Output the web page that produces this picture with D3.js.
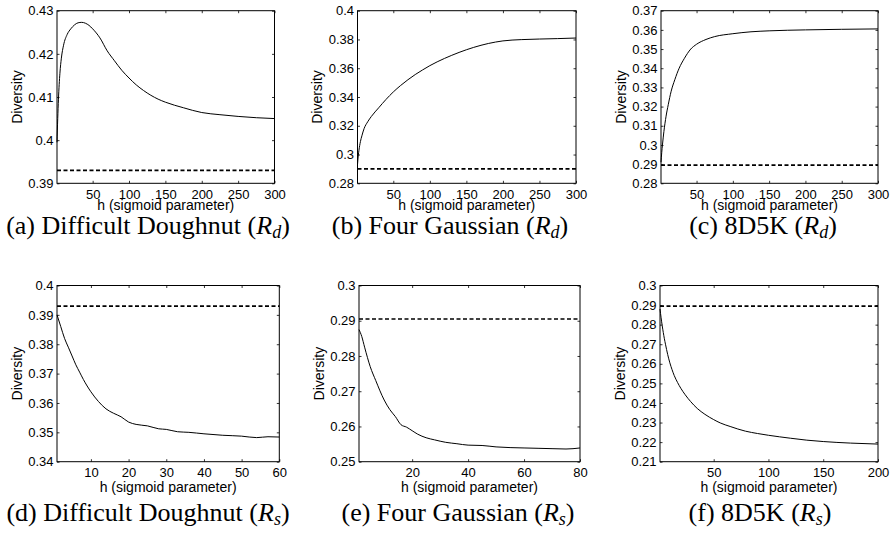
<!DOCTYPE html>
<html>
<head>
<meta charset="utf-8">
<script src="https://cdn.jsdelivr.net/npm/d3@7"></script>
<style>
  body { margin: 0; background: #fff; }
  svg { display: block; }
</style>
</head>
<body>
<div id="chart"></div>
<script>
// (a) Difficult Doughnut, R_d
const hA = [1, 2, 3, 5, 7, 10, 15, 20, 25, 30, 35, 40, 45, 50, 60, 70, 80, 90, 100, 110, 120, 130, 140, 150, 175, 200, 225, 250, 275, 300];
const divA = [0.3995, 0.405, 0.4095, 0.4155, 0.419, 0.422, 0.4245, 0.4258, 0.4267, 0.4272, 0.4273, 0.4271, 0.4266, 0.4258, 0.4237, 0.4207, 0.4184, 0.4162, 0.4144, 0.4128, 0.4115, 0.4104, 0.4095, 0.4088, 0.4075, 0.4064, 0.4059, 0.4055, 0.4052, 0.405];
const baseA = 0.393;

// (b) Four Gaussian, R_d
const hB = [1, 2, 3, 5, 7, 10, 15, 20, 30, 40, 50, 60, 70, 80, 90, 100, 120, 140, 160, 180, 200, 225, 250, 275, 300];
const divB = [0.293, 0.299, 0.303, 0.309, 0.313, 0.318, 0.3228, 0.3265, 0.3325, 0.3383, 0.3435, 0.348, 0.352, 0.3556, 0.3588, 0.3618, 0.3668, 0.371, 0.3745, 0.3772, 0.379, 0.3799, 0.3803, 0.3806, 0.381];
const baseB = 0.29;

// (c) 8D5K, R_d
const hC = [1, 2, 3, 5, 8, 11, 15, 20, 26, 33, 42, 50, 63, 75, 100, 125, 150, 200, 250, 300];
const divC = [0.291, 0.296, 0.3, 0.307, 0.315, 0.321, 0.328, 0.334, 0.34, 0.345, 0.35, 0.3525, 0.355, 0.3565, 0.358, 0.359, 0.3595, 0.36, 0.3603, 0.3605];
const baseC = 0.2895;

// (d) Difficult Doughnut, R_s
const hD = [1, 2, 3, 4, 5, 6, 7, 8, 10, 12, 14, 16, 18, 20, 22, 25, 28, 30, 33, 36, 40, 45, 50, 54, 57, 60];
const divD = [0.39, 0.386, 0.382, 0.379, 0.376, 0.373, 0.3705, 0.368, 0.3638, 0.3605, 0.358, 0.3565, 0.3553, 0.3535, 0.3527, 0.3522, 0.3512, 0.351, 0.3502, 0.35, 0.3495, 0.349, 0.3487, 0.3482, 0.3485, 0.3484];
const baseD = 0.393;

// (e) Four Gaussian, R_s
const hE = [1, 2, 3, 5, 7, 10, 12, 14, 16, 18, 20, 22, 25, 28, 32, 36, 40, 45, 50, 55, 60, 65, 70, 75, 80];
const divE = [0.2875, 0.2855, 0.2825, 0.277, 0.273, 0.2675, 0.2648, 0.2628, 0.2605, 0.2598, 0.2588, 0.2578, 0.2568, 0.2562, 0.2555, 0.2551, 0.2547, 0.2546, 0.2542, 0.254, 0.2539, 0.2538, 0.2537, 0.2536, 0.2539];
const baseE = 0.2905;

// (f) 8D5K, R_s
const hF = [1, 2, 3, 4, 5, 6, 8, 10, 12, 14, 17, 20, 24, 29, 35, 42, 50, 56, 65, 79, 90, 100, 120, 135, 150, 175, 200];
const divF = [0.288, 0.2835, 0.2795, 0.276, 0.2728, 0.27, 0.2648, 0.2605, 0.257, 0.254, 0.2505, 0.2475, 0.2442, 0.2407, 0.2372, 0.2342, 0.2315, 0.2298, 0.228, 0.2256, 0.2244, 0.2235, 0.222, 0.221, 0.2203, 0.2195, 0.219];
const baseF = 0.2895;

// tick values
const xTicks300 = [50, 100, 150, 200, 250, 300];
const xTicks60 = [10, 20, 30, 40, 50, 60];
const xTicks80 = [20, 40, 60, 80];
const xTicks200 = [50, 100, 150, 200];
const yTicksA = [0.39, 0.4, 0.41, 0.42, 0.43];
const yTicksB = [0.28, 0.3, 0.32, 0.34, 0.36, 0.38, 0.4];
const yTicksC = [0.28, 0.29, 0.3, 0.31, 0.32, 0.33, 0.34, 0.35, 0.36, 0.37];
const yTicksD = [0.34, 0.35, 0.36, 0.37, 0.38, 0.39, 0.4];
const yTicksE = [0.25, 0.26, 0.27, 0.28, 0.29, 0.3];
const yTicksF = [0.21, 0.22, 0.23, 0.24, 0.25, 0.26, 0.27, 0.28, 0.29, 0.3];

const captions = ["(a) Difficult Doughnut (", "(b) Four Gaussian (", "(c) 8D5K (",
                  "(d) Difficult Doughnut (", "(e) Four Gaussian (", "(f) 8D5K ("];
const subs = ["d", "d", "d", "s", "s", "s"];

const W = 892, H = 536;

// layout of the six panels (box edges in px)
const panels = [
    { h: hA, v: divA, base: baseA, xd: [1, 300], yd: [0.39, 0.43], xt: xTicks300, yt: yTicksA,
      l: 57, r: 274.5, t: 10.7, b: 183.3, capX: 148, capY: 234, xlab: 26.5 },
    { h: hB, v: divB, base: baseB, xd: [1, 300], yd: [0.28, 0.4], xt: xTicks300, yt: yTicksB,
      l: 357.5, r: 576, t: 10.7, b: 183.3, capX: 450, capY: 234, xlab: 26.5 },
    { h: hC, v: divC, base: baseC, xd: [1, 300], yd: [0.28, 0.37], xt: xTicks300, yt: yTicksC,
      l: 661, r: 878, t: 10.7, b: 183.3, capX: 763, capY: 234, xlab: 26.5 },
    { h: hD, v: divD, base: baseD, xd: [1, 60], yd: [0.34, 0.4], xt: xTicks60, yt: yTicksD,
      l: 57, r: 279.3, t: 285.5, b: 461.7, capX: 148, capY: 520.5, xlab: 30.5 },
    { h: hE, v: divE, base: baseE, xd: [1, 80], yd: [0.25, 0.3], xt: xTicks80, yt: yTicksE,
      l: 359, r: 580, t: 285.5, b: 461.7, capX: 458, capY: 520.5, xlab: 30.5 },
    { h: hF, v: divF, base: baseF, xd: [1, 200], yd: [0.21, 0.3], xt: xTicks200, yt: yTicksF,
      l: 660, r: 878, t: 285.5, b: 461.7, capX: 760, capY: 520.5, xlab: 30.5 },
];

const svg = d3.select("#chart")
    .append("svg")
    .attr("width", W)
    .attr("height", H)
    .style("background-color", "#fff");

const sans = "'Liberation Sans', Arial, Helvetica, sans-serif";
const serif = "'Liberation Serif', 'Times New Roman', serif";
const fmt = d3.format("~g");

panels.forEach((p, i) => {
    const g = svg.append("g").attr("class", "panel");

    const x = d3.scaleLinear().domain(p.xd).range([p.l, p.r]);
    const y = d3.scaleLinear().domain(p.yd).range([p.b, p.t]);

    // axes, matlab style: ticks inward on all four sides
    const bottom = g.append("g")
        .attr("transform", `translate(0,${p.b})`)
        .call(d3.axisBottom(x).tickValues(p.xt).tickSizeInner(-2.5).tickSizeOuter(0)
            .tickPadding(6).tickFormat(fmt));
    const left = g.append("g")
        .attr("transform", `translate(${p.l},0)`)
        .call(d3.axisLeft(y).tickValues(p.yt).tickSizeInner(-2.5).tickSizeOuter(0)
            .tickPadding(3.5).tickFormat(fmt));
    const top = g.append("g")
        .attr("transform", `translate(0,${p.t})`)
        .call(d3.axisTop(x).tickValues(p.xt).tickSizeInner(-2.5).tickSizeOuter(0).tickFormat(""));
    const right = g.append("g")
        .attr("transform", `translate(${p.r},0)`)
        .call(d3.axisRight(y).tickValues(p.yt).tickSizeInner(-2.5).tickSizeOuter(0).tickFormat(""));

    [bottom, left, top, right].forEach(a => {
        a.select(".domain").remove();
        a.selectAll("line").attr("stroke", "#000").attr("stroke-width", 0.8);
        a.selectAll("text")
            .attr("fill", "#000")
            .style("font-family", sans)
            .style("font-size", "13px");
    });

    // box
    g.append("rect")
        .attr("x", p.l)
        .attr("y", p.t)
        .attr("width", p.r - p.l)
        .attr("height", p.b - p.t)
        .attr("fill", "none")
        .attr("stroke", "#000")
        .attr("stroke-width", 1);

    // baseline (dashed)
    g.append("line")
        .attr("x1", x(p.xd[0]))
        .attr("x2", x(p.xd[1]))
        .attr("y1", y(p.base))
        .attr("y2", y(p.base))
        .attr("stroke", "#000")
        .attr("stroke-width", 1.7)
        .attr("stroke-dasharray", "4,2.5");

    // diversity curve
    const pts = p.h.map((h, k) => [h, p.v[k]]);
    const line = d3.line()
        .x(d => x(d[0]))
        .y(d => y(d[1]))
        .curve(d3.curveMonotoneX);
    g.append("path")
        .attr("d", line(pts))
        .attr("fill", "none")
        .attr("stroke", "#000")
        .attr("stroke-width", 1);

    // axis labels
    g.append("text")
        .attr("x", (p.l + p.r) / 2)
        .attr("y", p.b + p.xlab)
        .attr("text-anchor", "middle")
        .style("font-family", sans)
        .style("font-size", "14px")
        .text("h (sigmoid parameter)");

    g.append("text")
        .attr("transform", `translate(${p.l - 40},${(p.t + p.b) / 2}) rotate(-90)`)
        .attr("dy", "0.35em")
        .attr("text-anchor", "middle")
        .style("font-family", sans)
        .style("font-size", "14px")
        .text("Diversity");

    // caption
    const cap = g.append("text")
        .attr("x", p.capX)
        .attr("y", p.capY)
        .attr("text-anchor", "middle")
        .style("font-family", serif)
        .style("font-size", "26px");
    cap.append("tspan").text(captions[i]);
    cap.append("tspan").style("font-style", "italic").text("R");
    cap.append("tspan").style("font-style", "italic").style("font-size", "18px")
        .attr("dy", 4).text(subs[i]);
    cap.append("tspan").attr("dy", -4).text(")");
});
</script>
</body>
</html>
